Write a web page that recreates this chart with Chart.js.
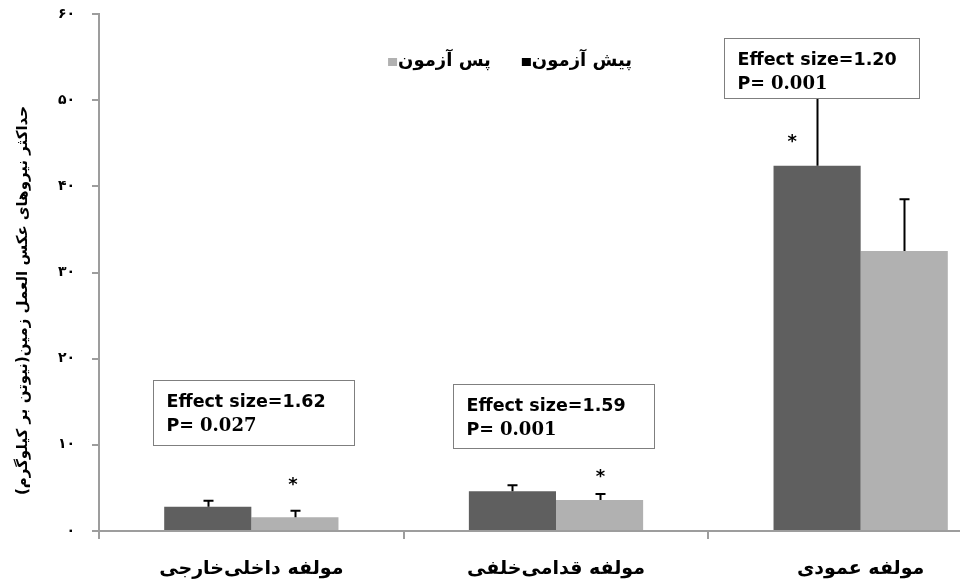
<!DOCTYPE html>
<html lang="fa">
<head>
<meta charset="utf-8">
<title>نیروهای عکس العمل زمین</title>
<script src="https://cdn.jsdelivr.net/npm/chart.js@4.4.1/dist/chart.umd.min.js"></script>
<style>
  html, body { margin: 0; padding: 0; background: #fff; overflow: hidden; }
  #wrap { position: relative; width: 1013px; height: 583px; }
</style>
</head>
<body>
<div id="wrap"><canvas id="chart" dir="rtl"></canvas></div>
<script>
// ---- data ----
const categories = ['مولفه داخلی‌خارجی', 'مولفه قدامی‌خلفی', 'مولفه عمودی'];
const seriesNames = ['پیش آزمون', 'پس آزمون'];
const preTest = [2.8, 4.6, 42.4];
const postTest = [1.6, 3.6, 32.5];
const preTestSD = [0.7, 0.7, 8.6];
const postTestSD = [0.75, 0.7, 6.0];
const yTicks = [0, 10, 20, 30, 40, 50, 60];
const effectSizes = ['1.62', '1.59', '1.20'];
const pValues = ['0.027', '0.001', '0.001'];
const starSeries = [1, 1, 0];   // which series carries the significance star in each group
const yTitle = 'حداکثر نیروهای عکس العمل زمین(نیوتن بر کیلوگرم)';

// ---- styling / placement ----
const COLORS = ['#5f5f5f', '#b1b1b1'];
const LEGEND_SWATCH = ['#000', '#b1b1b1'];
const AXIS = '#9d9d9d';
const SANS = '"DejaVu Sans", "Noto Sans", sans-serif';
const SERIF = '"DejaVu Serif", "Liberation Serif", serif';
// stat boxes: left offset from the group's left edge (px), top edge as a y value, size in px
const boxLayout = [
  { dx: 54, top: 17.5, w: 201, h: 65 },
  { dx: 49, top: 17.05, w: 201, h: 64 },
  { dx: 16, top: 57.2, w: 195, h: 60 }
];
// star placement: y value of the star centre and horizontal shift from its bar centre
const starLayout = [
  { y: 5.6, dx: -2 },
  { y: 6.5, dx: 1 },
  { y: 45.4, dx: -25 }
];

const faDigits = '۰۱۲۳۴۵۶۷۸۹';
const toFa = v => String(v).replace(/[0-9]/g, d => faDigits[d]);
const errors = [preTestSD, postTestSD];

const overlay = {
  id: 'overlay',
  afterDatasetsDraw(chart) {
    const { ctx, scales: { x, y } } = chart;
    ctx.save();

    // error bars (upper whisker only)
    ctx.strokeStyle = '#000';
    ctx.lineWidth = 2;
    chart.data.datasets.forEach((ds, di) => {
      chart.getDatasetMeta(di).data.forEach((bar, i) => {
        const top = y.getPixelForValue(ds.data[i] + errors[di][i]);
        const bx = Math.round(bar.x) + 0.5;
        ctx.beginPath();
        ctx.moveTo(bx, bar.y);
        ctx.lineTo(bx, top);
        ctx.moveTo(bx - 5, top);
        ctx.lineTo(bx + 5, top);
        ctx.stroke();
      });
    });

    // significance stars
    ctx.fillStyle = '#000';
    ctx.font = 'bold 18px ' + SANS;
    ctx.textAlign = 'center';
    ctx.textBaseline = 'alphabetic';
    ctx.direction = 'ltr';
    starSeries.forEach((si, i) => {
      const bar = chart.getDatasetMeta(si).data[i];
      const cy = y.getPixelForValue(starLayout[i].y);
      ctx.fillText('*', bar.x + starLayout[i].dx, cy + 7);
    });

    // effect size boxes
    const groupW = (x.right - x.left) / categories.length;
    boxLayout.forEach((b, i) => {
      const bx = Math.round(x.left + groupW * i + b.dx) + 0.5;
      const by = Math.round(y.getPixelForValue(b.top)) + 0.5;
      ctx.fillStyle = '#fff';
      ctx.fillRect(bx, by, b.w, b.h);
      ctx.strokeStyle = '#7f7f7f';
      ctx.lineWidth = 1;
      ctx.strokeRect(bx, by, b.w, b.h);
      ctx.fillStyle = '#000';
      ctx.textAlign = 'left';
      ctx.font = 'bold 17.5px ' + SANS;
      ctx.fillText('Effect size=' + effectSizes[i], bx + 13, by + 26);
      const lead = 'P= ';
      ctx.fillText(lead, bx + 13, by + 50);
      const w = ctx.measureText(lead).width;
      ctx.font = 'bold 18px ' + SERIF;
      ctx.fillText(pValues[i], bx + 13 + w, by + 50);
    });

    // legend (right to left)
    ctx.direction = 'rtl';
    ctx.textAlign = 'right';
    ctx.font = 'bold 18px ' + SANS;
    let lx = x.left + 533;
    const ly = 66;
    seriesNames.forEach((name, i) => {
      ctx.fillStyle = '#000';
      ctx.fillText(name, lx, ly);
      const tw = ctx.measureText(name).width;
      ctx.fillStyle = LEGEND_SWATCH[i];
      ctx.fillRect(lx - tw - 10, ly - 8, 9, 8);
      lx = lx - tw - 10 - 31;
    });

    // vertical axis title, rotated to read bottom to top
    ctx.translate(23, (y.top + y.bottom) / 2 + 28);
    ctx.rotate(-Math.PI / 2);
    ctx.textAlign = 'center';
    ctx.textBaseline = 'middle';
    ctx.fillStyle = '#000';
    ctx.font = 'bold 15px ' + SANS;
    ctx.fillText(yTitle, 0, 0);
    ctx.restore();
  }
};

new Chart(document.getElementById('chart'), {
  type: 'bar',
  data: {
    labels: categories,
    datasets: [
      { label: seriesNames[0], data: preTest, backgroundColor: COLORS[0],
        barPercentage: 1, categoryPercentage: 0.572 },
      { label: seriesNames[1], data: postTest, backgroundColor: COLORS[1],
        barPercentage: 1, categoryPercentage: 0.572 }
    ]
  },
  options: {
    responsive: true,
    maintainAspectRatio: false,
    animation: false,
    events: [],
    layout: { padding: { top: 14, right: 0, bottom: 0, left: 0 } },
    plugins: { legend: { display: false }, tooltip: { enabled: false } },
    scales: {
      x: {
        offset: true,
        grid: { drawOnChartArea: false, drawTicks: true, tickLength: 8,
                color: AXIS, lineWidth: 2, offset: true },
        border: { color: AXIS, width: 2 },
        ticks: { color: '#000', padding: 19,
                 font: { family: SANS, size: 19, weight: 'bold' } },
        afterFit(s) { s.height = 52; s.paddingLeft = 0; s.paddingRight = 0; }
      },
      y: {
        min: 0, max: 60,
        afterBuildTicks(s) { s.ticks = yTicks.map(v => ({ value: v })); },
        grid: { drawOnChartArea: false, drawTicks: true, tickLength: 7,
                color: AXIS, lineWidth: 2 },
        border: { color: AXIS, width: 2 },
        ticks: { color: '#000', padding: 17, callback: v => toFa(v),
                 font: { family: SANS, size: 14, weight: 'bold' } },
        afterFit(s) { s.width = 99; s.paddingTop = 0; s.paddingBottom = 0; }
      }
    }
  },
  plugins: [overlay]
});
</script>
</body>
</html>
